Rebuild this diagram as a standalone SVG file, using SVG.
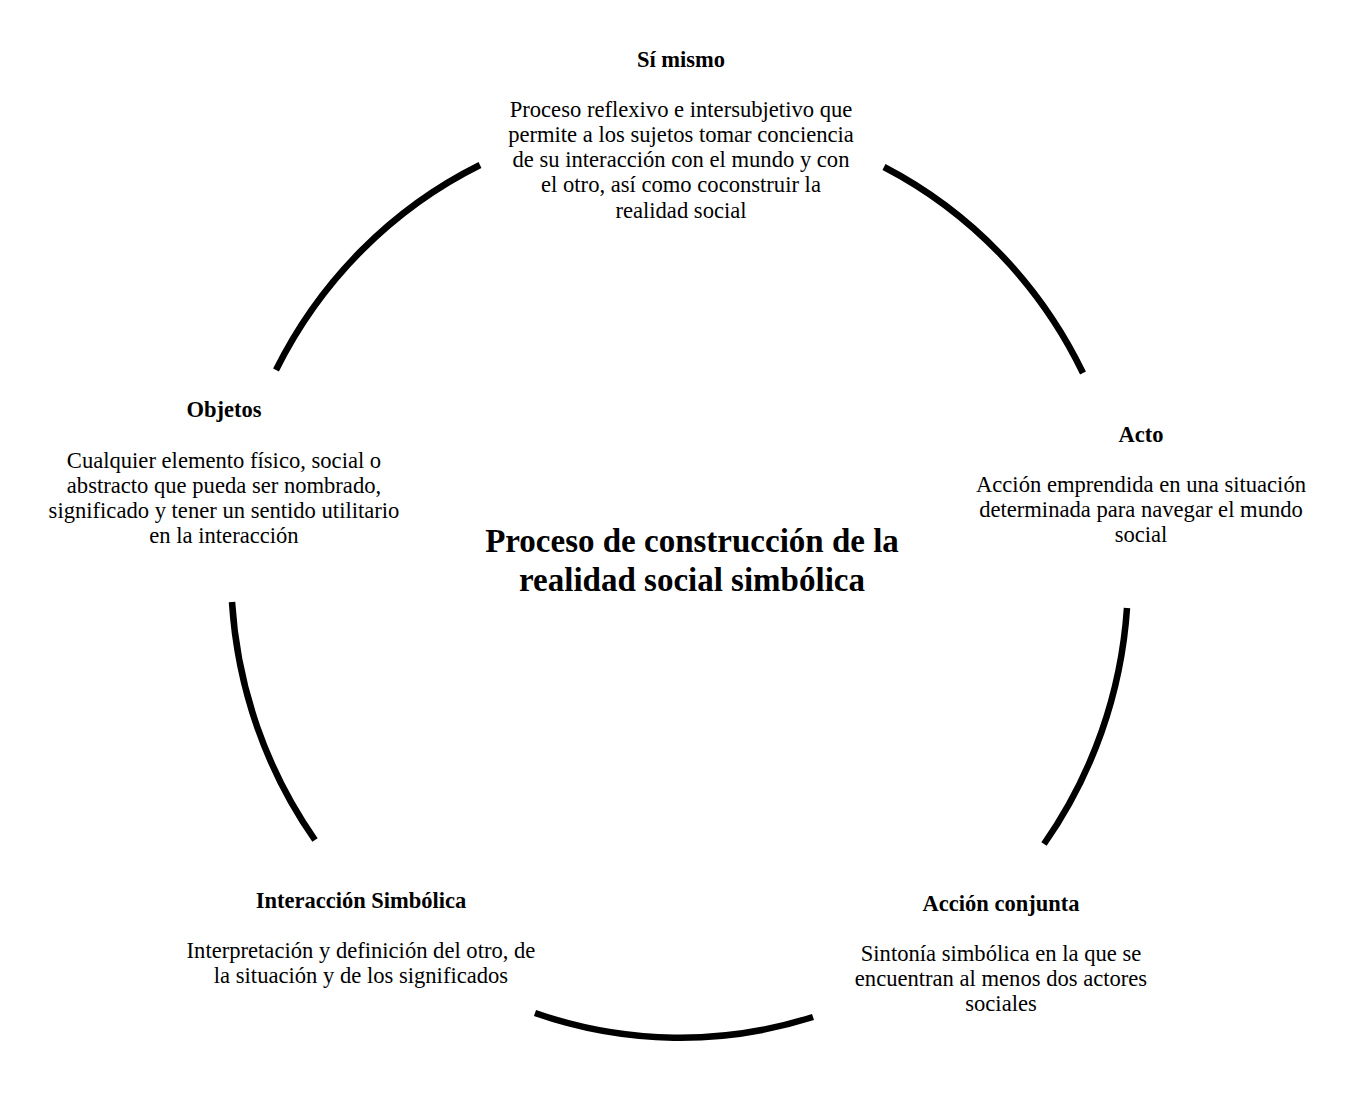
<svg xmlns="http://www.w3.org/2000/svg" width="1351" height="1105" viewBox="0 0 1351 1105">
<style>
.arc{fill:none;stroke:#000;stroke-width:6.5;stroke-linecap:butt}
text{font-family:"Liberation Serif","Times New Roman",serif;fill:#000;text-anchor:middle}
.t{font-size:22.5px;font-weight:bold}
.b{font-size:22.6px}
.c{font-size:33px;font-weight:bold}
</style>
<rect width="1351" height="1105" fill="#fff"/>
<g id="connectors">
<path class="arc" d="M276,370 A448,459 0 0 1 480,165"/>
<path class="arc" d="M884,167 A448,459 0 0 1 1083,373"/>
<path class="arc" d="M1127,608 A448,459 0 0 1 1044,844"/>
<path class="arc" d="M813,1017 A448,459 0 0 1 535,1013"/>
<path class="arc" d="M315,840 A448,459 0 0 1 232,602"/>
</g>
<g id="center">
<text class="c" x="692" y="552">Proceso de construcción de la</text>
<text class="c" x="692" y="591">realidad social simbólica</text>
</g>
<g id="si-mismo">
<text class="t" x="681" y="67">Sí mismo</text>
<text class="b" x="681" y="117">Proceso reflexivo e intersubjetivo que</text>
<text class="b" x="681" y="142">permite a los sujetos tomar conciencia</text>
<text class="b" x="681" y="167">de su interacción con el mundo y con</text>
<text class="b" x="681" y="192">el otro, así como coconstruir la</text>
<text class="b" x="681" y="218">realidad social</text>
</g>
<g id="acto">
<text class="t" x="1141" y="442">Acto</text>
<text class="b" x="1141" y="492">Acción emprendida en una situación</text>
<text class="b" x="1141" y="517">determinada para navegar el mundo</text>
<text class="b" x="1141" y="542">social</text>
</g>
<g id="accion-conjunta">
<text class="t" x="1001" y="911">Acción conjunta</text>
<text class="b" x="1001" y="961">Sintonía simbólica en la que se</text>
<text class="b" x="1001" y="986">encuentran al menos dos actores</text>
<text class="b" x="1001" y="1011">sociales</text>
</g>
<g id="interaccion-simbolica">
<text class="t" x="361" y="908">Interacción Simbólica</text>
<text class="b" x="361" y="958">Interpretación y definición del otro, de</text>
<text class="b" x="361" y="983">la situación y de los significados</text>
</g>
<g id="objetos">
<text class="t" x="224" y="417">Objetos</text>
<text class="b" x="224" y="468">Cualquier elemento físico, social o</text>
<text class="b" x="224" y="493">abstracto que pueda ser nombrado,</text>
<text class="b" x="224" y="518">significado y tener un sentido utilitario</text>
<text class="b" x="224" y="543">en la interacción</text>
</g>
</svg>
